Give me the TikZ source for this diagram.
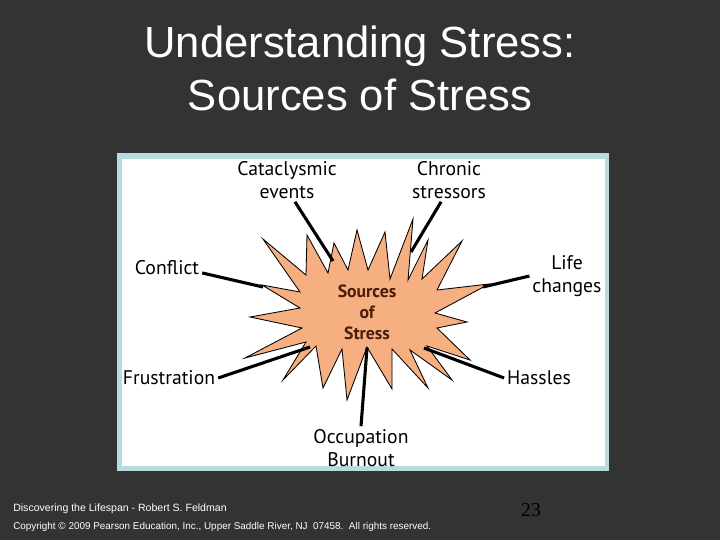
\documentclass[tikz,border=0pt]{standalone}
\usepackage{fontspec}
\setmainfont{Liberation Sans}
\newfontfamily\lblfont{PT Sans}
\newfontfamily\numfont{Liberation Serif}
\usetikzlibrary{positioning}

\definecolor{slidebg}{RGB}{51,51,51}
\definecolor{framebl}{RGB}{183,220,224}
\definecolor{burst}{RGB}{245,175,128}
\definecolor{burstink}{RGB}{72,30,10}

\tikzset{
  lbl/.style={font=\lblfont\fontsize{14}{16.5}\selectfont, align=center, inner sep=2pt},
  feed/.style={line width=2.2pt, black},
  burstshape/.style={fill=burst, draw=black, line width=0.6pt, line join=miter},
  foot/.style={white, anchor=base west, inner sep=0pt}
}

\begin{document}
\begin{tikzpicture}[x=0.025cm, y=-0.025cm]
  \fill[slidebg] (0,0) rectangle (720,540);
  \useasboundingbox (0,0) rectangle (720,540);

  % title
  \node[white, font=\fontsize{31}{37.7}\selectfont, anchor=base] (title1) at (360,57) {Understanding Stress:};
  \node[white, font=\fontsize{31}{37.7}\selectfont, anchor=base] (title2) at (360,110) {Sources of Stress};

  % panel
  \fill[framebl] (117,153) rectangle (609,471);
  \fill[white] (122,159) rectangle (605,466);

  \begin{scope}
    \clip (122,159) rectangle (605,466);
    % burst
    \draw[burstshape] (262,285) -- (300,292) -- (263,239) -- (306,275) -- (307,235)
      -- (328,273) -- (334,243) -- (348,270) -- (357,230) -- (368,270) -- (385,232)
      -- (390,279) -- (413,219) -- (408,280) -- (428,240) -- (422,279) -- (462,241)
      -- (437,290) -- (489,284) -- (435,313) -- (467,322) -- (437,328) -- (470,360)
      -- (427,346) -- (452,380) -- (410,350) -- (428,388) -- (392,349) -- (392,389)
      -- (367,347) -- (347,400) -- (342,349) -- (323,388) -- (316,346) -- (283,380)
      -- (306,342) -- (245,358) -- (302,328) -- (250,317) -- (300,308) -- cycle;
    \node[font=\lblfont\bfseries\fontsize{12.6}{14.8}\selectfont, text=burstink, align=center] (src) at (367,312) {Sources\\of\\Stress};

    % sources
    \node[lbl] (cata) at (287,180) {Cataclysmic\\events};
    \node[lbl] (chron) at (449,180) {Chronic\\stressors};
    \node[lbl] (confl) at (167,268) {Conflict};
    \node[lbl] (life) at (567,276) {Life\\changes};
    \node[lbl] (frus) at (169,378) {Frustration};
    \node[lbl] (hass) at (539,378) {Hassles};
    \node[lbl] (occ) at (361,448) {Occupation\\Burnout};

    \coordinate (cataS) at (333,261);
    \coordinate (chronS) at (411,252);
    \coordinate (conflS) at (263,287);
    \coordinate (lifeS) at (483,287);
    \coordinate (frusS) at (310,347);
    \coordinate (hassS) at (424,348);
    \coordinate (occS) at (367,348);

    \foreach \a/\b in {cata.-70/cataS, chron.-110/chronS, confl.-8/conflS,
                       life.west/lifeS, frus.east/frusS, hass.west/hassS, occ.north/occS}
      \draw[feed] (\a) -- (\b);
  \end{scope}

  % footer
  \node[foot, font=\fontsize{7.5}{9}\selectfont] (foot1) at (13,511) {Discovering the Lifespan - Robert S. Feldman};
  \node[foot, font=\fontsize{7.05}{9}\selectfont] (foot2) at (13,529) {Copyright \textcopyright{} 2009 Pearson Education, Inc., Upper Saddle River, NJ\ \ 07458.\ \ All rights reserved.};
  \node[font=\numfont\fontsize{14}{16}\selectfont, text=black, anchor=base] (page) at (531,516) {23};
\end{tikzpicture}
\end{document}
